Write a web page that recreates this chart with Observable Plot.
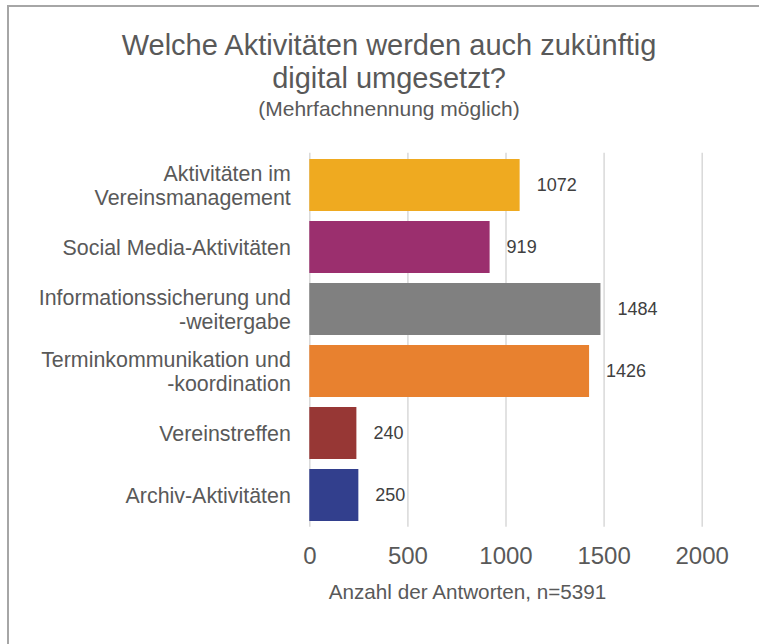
<!DOCTYPE html>
<html>
<head>
<meta charset="utf-8">
<script src="https://cdn.jsdelivr.net/npm/d3@7"></script>
<script src="https://cdn.jsdelivr.net/npm/@observablehq/plot@0.6"></script>
<style>
  html, body { margin: 0; padding: 0; background: #fff; overflow: hidden; }
  #wrap { position: relative; width: 759px; height: 644px; overflow: hidden; background: #fff;
          font-family: "Liberation Sans", Arial, sans-serif; }
  #frame { position: absolute; left: 7px; top: 5px; width: 900px; height: 800px;
           border-left: 2px solid #a6a6a6; border-top: 2px solid #a6a6a6; box-sizing: border-box; }
  #titlebox { position: absolute; left: 19px; top: 0; width: 740px; height: 130px; text-align: center; color: #595959; }
  #title { position: absolute; left: 0; right: 0; top: 29px; font-size: 29px; line-height: 33px; }
  #subtitle { position: absolute; left: 0; right: 0; top: 95.5px; font-size: 21px; line-height: 26px; }
  #chart { position: absolute; left: 0; top: 130px; }
</style>
</head>
<body>
<div id="wrap">
  <div id="frame"></div>
  <div id="titlebox">
    <div id="title">Welche Aktivitäten werden auch zukünftig<br>digital umgesetzt?</div>
    <div id="subtitle">(Mehrfachnennung möglich)</div>
  </div>
  <div id="chart"></div>
</div>
<script>
const categories = [
  "Aktivitäten im\nVereinsmanagement",
  "Social Media-Aktivitäten",
  "Informationssicherung und\n-weitergabe",
  "Terminkommunikation und\n-koordination",
  "Vereinstreffen",
  "Archiv-Aktivitäten"
];
const values = [1072, 919, 1484, 1426, 240, 250];
const colors = ["#EFAA20", "#9B2F6E", "#808080", "#E8812F", "#973735", "#323F8D"];
const xTicks = [0, 500, 1000, 1500, 2000];
const axisLabel = "Anzahl der Antworten, n=5391";

const data = categories.map((name, i) => ({name, value: values[i]}));

const chart = Plot.plot({
  width: 759,
  height: 514,
  marginTop: 22.7,
  marginBottom: 117.3,
  marginLeft: 309.3,
  marginRight: 57.3,
  style: {fontFamily: "Liberation Sans, Arial, sans-serif", background: "transparent"},
  x: {domain: [0, 2000], axis: null},
  y: {domain: categories, paddingInner: 0.167, paddingOuter: 0.0835, axis: null},
  color: {domain: categories, range: colors},
  marks: [
    Plot.ruleX(xTicks, {stroke: "#d9d9d9", strokeWidth: 1.5}),
    Plot.barX(data, {y: "name", x: "value", fill: "name"}),
    Plot.text(data, {x: "value", y: "name", text: d => String(d.value), dx: 16.5,
      textAnchor: "start", fontSize: 18, fill: "#404040"}),
    Plot.text(data, {y: "name", text: "name", frameAnchor: "left", textAnchor: "end",
      dx: -19, fontSize: 21.4, lineHeight: 1.12, fill: "#595959"}),
    Plot.axisX(xTicks, {tickSize: 0, tickPadding: 20, fontSize: 24, fill: "#595959",
      label: null, tickFormat: d => String(d)}),
    Plot.text([axisLabel], {frameAnchor: "bottom", text: d => d, dy: 71.9, dx: -38.5,
      fontSize: 20.7, fill: "#595959"})
  ]
});
document.getElementById("chart").appendChild(chart);
</script>
</body>
</html>
